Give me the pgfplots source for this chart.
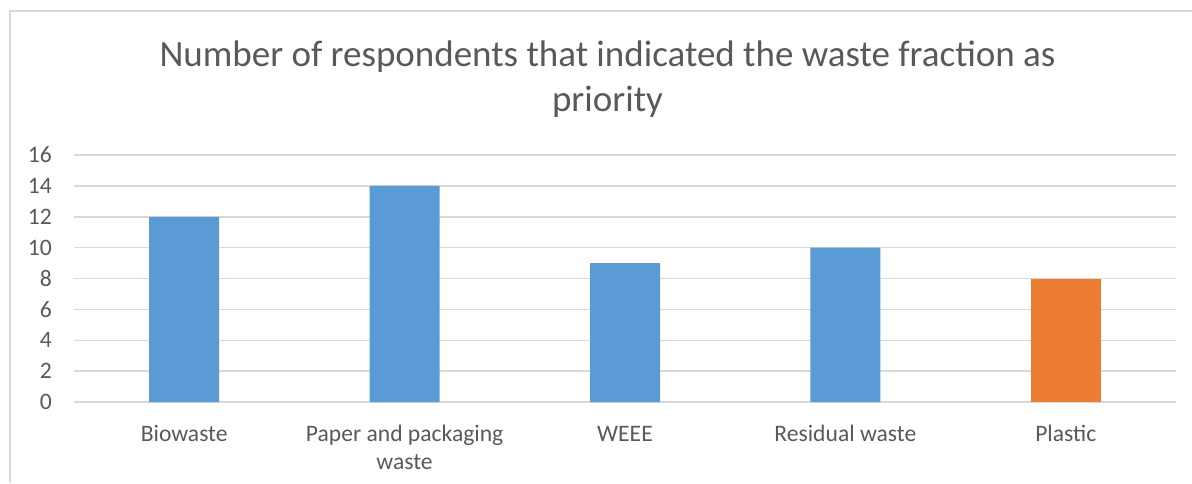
\documentclass[border=0pt]{standalone}
\usepackage{pgfplots}
\pgfplotsset{compat=1.18}
\usepackage{fontspec}
\setmainfont{Carlito}
\definecolor{barblue}{HTML}{5B9BD5}
\definecolor{barorange}{HTML}{ED7D31}
\definecolor{gridgrey}{HTML}{D9D9D9}
\definecolor{textgrey}{HTML}{595959}
\begin{document}
\begin{tikzpicture}[x=1pt,y=1pt]
\useasboundingbox (0,0) rectangle (1192,483);
% chart frame
\draw[gridgrey, line width=1.5pt] (10,0) -- (10,472) -- (1192,472);
% title (anchor base sits on the last line's baseline)
\node[text=textgrey, align=center, font=\fontsize{37}{45}\selectfont, anchor=base]
  at (607.5,371) {Number of respondents that indicated the waste fraction as\\priority};
\begin{axis}[
  at={(74pt,81pt)}, anchor=south west,
  scale only axis, width=1102pt, height=247pt,
  xmin=-0.5, xmax=4.5, ymin=0, ymax=16,
  ytick={0,2,...,16},
  xtick={0,1,2,3,4},
  xticklabels={\strut Biowaste,{\strut Paper and packaging\\waste},\strut WEEE,\strut Residual waste,\strut Plastic},
  axis line style={draw=none},
  major tick length=0pt,
  ymajorgrids, grid style={gridgrey, line width=1.5pt},
  tick label style={text=textgrey, font=\fontsize{23.6}{28.5}\selectfont},
  yticklabel style={anchor=east, inner sep=0pt, xshift=-22pt},
  xticklabel style={anchor=north, align=center, inner sep=0pt, yshift=-19pt},
  /pgf/number format/assume math mode=true,
  ybar, bar width=70pt, bar shift=0pt,
  clip=false,
]
\addplot[fill=barblue, draw=none] coordinates {(0,12) (1,14) (2,9) (3,10)};
\addplot[fill=barorange, draw=none] coordinates {(4,8)};
\end{axis}
\end{tikzpicture}
\end{document}
